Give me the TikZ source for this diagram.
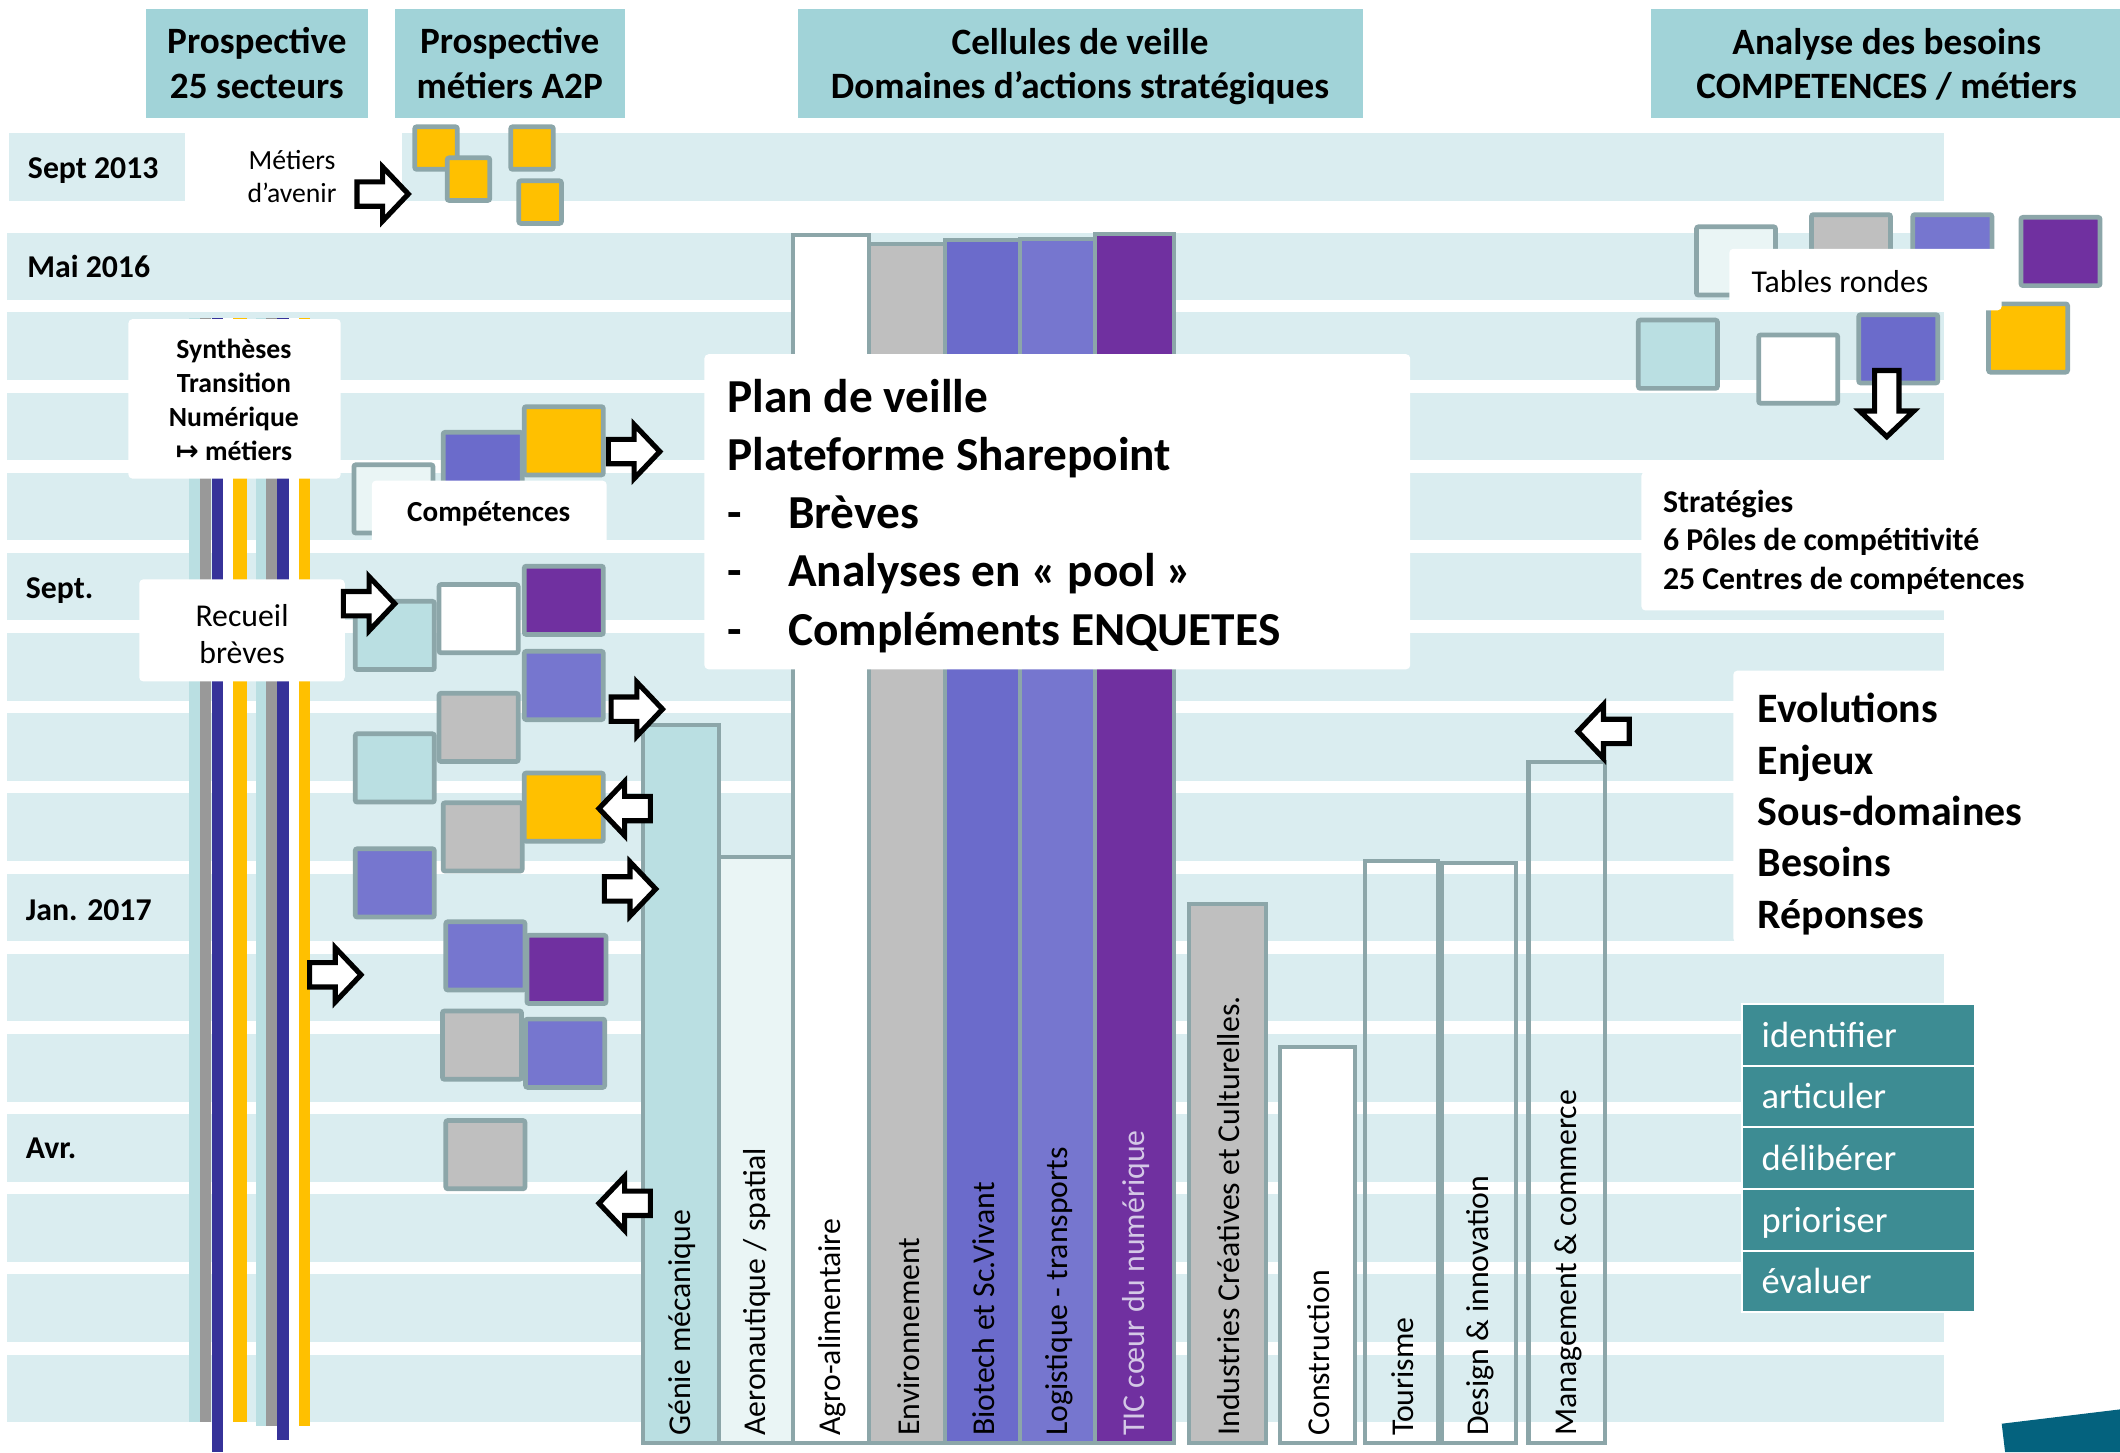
\documentclass[tikz,border=0pt]{standalone}
\usepackage{fontspec}
\setmainfont{Carlito}
\newfontfamily\flechefont{DejaVu Sans}

\definecolor{entete}{HTML}{A1D3D8}
\definecolor{bande}{HTML}{DAEDF0}
\definecolor{bord}{HTML}{8CA6A9}
\definecolor{jaune}{HTML}{FFC000}
\definecolor{bleuviolet}{HTML}{6B6BCB}
\definecolor{lavande}{HTML}{7676CF}
\definecolor{violet}{HTML}{7030A0}
\definecolor{grisclair}{HTML}{BFBFBF}
\definecolor{bleuclair}{HTML}{BADFE2}
\definecolor{tresclair}{HTML}{EAF5F5}
\definecolor{sarcelle}{HTML}{3D8C93}
\definecolor{petrole}{HTML}{04627E}
\definecolor{marine}{HTML}{363299}
\definecolor{grisfonce}{HTML}{999999}
\definecolor{lilas}{HTML}{D4C8E6}

\tikzset{
	ligne/.style={fill=bande},
	carre/.style={draw=bord, line width=3.5pt, rounded corners=1.5pt},
	barre/.style={draw=bord, line width=3pt},
	blanc/.style={fill=white, rounded corners=3pt},
	titre/.style={font=\bfseries\fontsize{27.5}{33}\selectfont, anchor=base, inner sep=0},
	date/.style={font=\bfseries\fontsize{23.5}{28}\selectfont, anchor=base west, inner sep=0},
	domaine/.style={font=\fontsize{23.5}{28}\selectfont, anchor=west, rotate=90, inner sep=0},
	txt/.style={anchor=base west, inner sep=0},
	ctxt/.style={anchor=base, inner sep=0},
	pics/fleche/.style={code={
		\draw[line width=3.8pt, fill=white] (-#1,-9) -- (0,-9) -- (0,-20) -- (19,0) -- (0,20) -- (0,9) -- (-#1,9) -- cycle;
	}},
	pics/fleche/.default=19
}

\begin{document}
\begin{tikzpicture}[x=1pt, y=-1pt]
	\useasboundingbox (0,0) rectangle (1568,1074);

	% Bandeaux de titre
	\fill[entete] (108,7) rectangle (272,87);
	\fill[entete] (292,7) rectangle (462,87);
	\fill[entete] (590,7) rectangle (1008,87);
	\fill[entete] (1221,7) rectangle (1568,87);

	% Lignes du calendrier
	\fill[ligne] (7,98) rectangle (137,148.5);
	\fill[ligne] (297,98) rectangle (1438,148.5);
	\fill[ligne] (5,172) rectangle (1438,221.7);
	\foreach \i in {0,...,13}
		\fill[ligne] (5,231+59.3*\i) rectangle (1438,281+59.3*\i);

	% Colonnes verticales a gauche
	\fill[bleuclair] (139.8,235) rectangle (147.9,1052);
	\fill[grisfonce] (147.9,235) rectangle (156.4,1052);
	\fill[marine] (156.8,235) rectangle (164.9,1074);
	\fill[white] (164.9,235) rectangle (172.3,1052);
	\fill[jaune] (172.3,235) rectangle (182.5,1052);
	\fill[bleuclair] (189.3,235) rectangle (196.7,1055);
	\fill[grisfonce] (196.7,235) rectangle (205.1,1055);
	\fill[marine] (205.1,235) rectangle (213.8,1065);
	\fill[white] (213.8,235) rectangle (221.1,1055);
	\fill[jaune] (221.1,235) rectangle (229.3,1055);

	% Domaines d'actions strategiques
	\foreach \xa/\xb/\h/\c/\tc/\t [count=\k] in {
		475.5/531.5/536.5/bleuclair/black/{Génie mécanique},
		531.5/586.5/633.5/tresclair/black/{Aeronautique / spatial},
		586.5/643/173.5/white/black/{Agro-alimentaire},
		643/699/180.5/grisclair/black/{Environnement},
		699/754.5/177.5/bleuviolet/black/{Biotech et Sc.Vivant},
		754.5/810/176.5/lavande/black/{Logistique - transports},
		810/868.5/173/violet/lilas/{TIC cœur du numérique},
		879.5/936.5/668.5/grisclair/black/{Industries Créatives et Culturelles.},
		946.5/1002.5/774.5/white/black/{Construction},
		1009.5/1063.5/636.5/none/black/{Tourisme},
		1066.5/1121/638.5/none/black/{Design \& innovation},
		1130.5/1187/563.5/none/black/{Management \& commerce}} {
		\draw[barre, fill=\c] (\xa,1067.5) rectangle (\xb,\h);
		\node[domaine, text=\tc] (dom\k) at ({(\xa+\xb)/2+1},1062) {\t};
	}

	% Metiers d'avenir
	\foreach \x/\y in {305/92, 329/115, 376/92, 382/132}
		\draw[carre, fill=jaune] (\x+1.75,\y+1.75) rectangle ++(31.5,31.5);

	% Veille : carres de couleur
	\foreach \x/\y/\c in {260/342/tresclair, 326/318/bleuviolet, 386/299/jaune,
		261/443/bleuclair, 323/430.6/white, 386/417/violet, 386/480/lavande,
		323/511/grisclair, 261/541/bleuclair, 386/570/jaune, 326/592/grisclair,
		261/626/lavande, 328/680/lavande, 388/690/violet, 325.5/746/grisclair,
		387/752/lavande, 328/827/grisclair}
		\draw[carre, fill=\c] (\x+1.75,\y+1.75) rectangle ++(58.5,50.5);

	% Tables rondes
	\foreach \x/\y/\c in {1253/166/tresclair, 1338/157/grisclair, 1413/157/lavande,
		1493/159/violet, 1469/223/jaune, 1210/235/bleuclair, 1299/246/white,
		1373/231/bleuviolet}
		\draw[carre, fill=\c] (\x+1.75,\y+1.75) rectangle ++(58.5,50.5);

	% Cadres blancs
	\fill[blanc] (95,236) rectangle (252,354);
	\fill[blanc] (103,428.5) rectangle (255,504);
	\fill[blanc] (275,355.5) rectangle (448.7,405);
	\fill[blanc] (521,262) rectangle (1043,495);
	\fill[blanc] (1279,184) rectangle (1480.5,229.5);
	\fill[blanc] (1214,349) rectangle (1520,451.5);
	\fill[blanc] (1282,496) rectangle (1500,697);

	% Verbes d'action
	\foreach \t [count=\k] in {identifier, articuler, délibérer, prioriser, évaluer} {
		\draw[fill=sarcelle, draw=white, line width=1.4pt] (1288.6,742.6+45.6*\k-45.6) rectangle ++(172.4,45.6);
		\node[txt, text=white, font=\fontsize{27}{33}\selectfont] (act\k) at (1302.8,774.5+45.6*\k-45.6) {\t};
	}

	% Coin en bas a droite
	\fill[petrole] (1480.5,1053) -- (1568,1042.4) -- (1568,1074) -- (1483,1074) -- cycle;

	% Fleches
	\pic (fa) at (283,143.5) {fleche};
	\pic (fb) at (469,334) {fleche};
	\pic (fc) at (273,446.5) {fleche};
	\pic (fd) at (471,524.5) {fleche};
	\pic[xscale=-1] (fe) at (462,598) {fleche};
	\pic (ff) at (466,657.5) {fleche};
	\pic (fg) at (248,721) {fleche};
	\pic[xscale=-1] (fh) at (462,890) {fleche};
	\pic[xscale=-1] (fi) at (1186,541) {fleche};
	\pic[rotate=-90] (fj) at (1395.5,304) {fleche=30};

	% Titres
	\node[titre] (ps1) at (190,39.7) {Prospective};
	\node[titre] (ps2) at (190,72.9) {25 secteurs};
	\node[titre] (pm1) at (377,39.7) {Prospective};
	\node[titre] (pm2) at (377,72.9) {métiers A2P};
	\node[titre] (cv1) at (798.8,40) {Cellules de veille};
	\node[titre] (cv2) at (798.8,73) {Domaines d’actions stratégiques};
	\node[titre] (ab1) at (1395.5,40) {Analyse des besoins};
	\node[titre] (ab2) at (1395.5,73) {COMPETENCES / métiers};

	% Dates
	\node[date] (d1) at (20.5,132) {Sept 2013};
	\node[date] (d2) at (20,205) {Mai 2016};
	\node[date] (d3) at (19,442.5) {Sept.};
	\node[date] (d4) at (19,680.5) {Jan. 2017};
	\node[date] (d5) at (19,857) {Avr.};

	% Textes de gauche
	\node[ctxt, font=\fontsize{20.5}{25}\selectfont] (mav1) at (216,125.6) {Métiers};
	\node[ctxt, font=\fontsize{20.5}{25}\selectfont] (mav2) at (216,150) {d’avenir};
	\foreach \t [count=\k] in {Synthèses, Transition, Numérique, {{\flechefont\bfseries ↦} métiers}}
		\node[ctxt, font=\bfseries\fontsize{20.5}{25}\selectfont] (syn\k) at (173,265+25.1*\k-25.1) {\t};
	\node[ctxt, font=\bfseries\fontsize{21.5}{26}\selectfont] (comp) at (361.5,386) {Compétences};
	\node[ctxt, font=\fontsize{23.5}{28}\selectfont] (rec1) at (179,463.2) {Recueil};
	\node[ctxt, font=\fontsize{23.5}{28}\selectfont] (rec2) at (179,490.5) {brèves};

	% Plan de veille
	\node[txt, font=\bfseries\fontsize{35}{43}\selectfont] (pv1) at (538,305.1) {Plan de veille};
	\node[txt, font=\bfseries\fontsize{35}{43}\selectfont] (pv2) at (538,348.1) {Plateforme Sharepoint};
	\foreach \t [count=\k] in {Brèves, Analyses en «~pool~», Compléments ENQUETES} {
		\node[txt, font=\bfseries\fontsize{35}{43}\selectfont] (tir\k) at (538,348.1+43*\k) {-};
		\node[txt, font=\bfseries\fontsize{35}{43}\selectfont] (pvi\k) at (582.7,348.1+43*\k) {\t};
	}

	% Textes de droite
	\node[txt, font=\fontsize{23.5}{28}\selectfont] (tr) at (1295.4,216.2) {Tables rondes};
	\foreach \t [count=\k] in {Stratégies, 6 Pôles de compétitivité, 25 Centres de compétences}
		\node[txt, font=\bfseries\fontsize{23.5}{28}\selectfont] (str\k) at (1229.8,379+28.5*\k-28.5) {\t};
	\foreach \t [count=\k] in {Evolutions, Enjeux, Sous-domaines, Besoins, Réponses}
		\node[txt, font=\bfseries\fontsize{31}{38}\selectfont] (ev\k) at (1299.8,534.5+38*\k-38) {\t};

\end{tikzpicture}
\end{document}
